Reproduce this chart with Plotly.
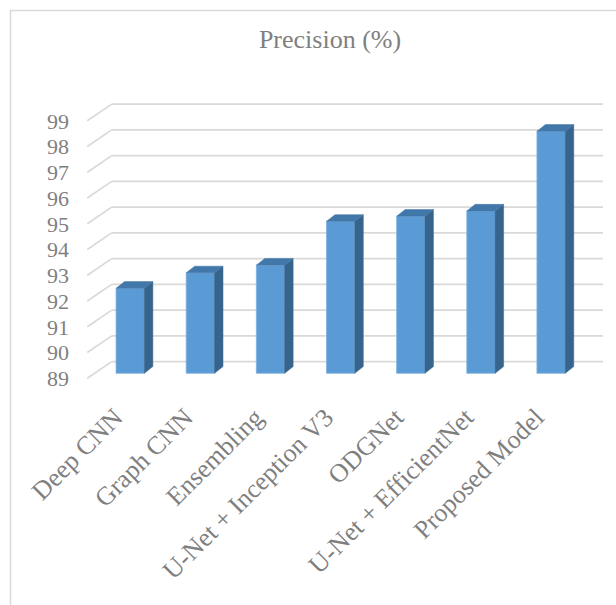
import plotly.graph_objects as go

# Data
models = [
    "Deep CNN",
    "Graph CNN",
    "Ensembling",
    "U-Net + Inception V3",
    "ODGNet",
    "U-Net + EfficientNet",
    "Proposed Model",
]
precision = [92.3, 92.9, 93.2, 94.9, 95.1, 95.3, 98.4]
y_ticks = list(range(89, 100))
y_floor = 89

# Layout geometry (pixels)
W, H = 616, 605
PLOT_L, PLOT_R, PLOT_T, PLOT_B = 70, 606, 80, 390
X0_PX, X_STEP = 130.2, 70.15      # pixel of first category, spacing between categories
Y_FLOOR_PX, Y_STEP = 378.3, 25.75  # pixel of the floor value on the front plane, pixels per unit
LABEL_SHIFT_PX = 15                # category labels sit on the front edge of the floor


def px_to_x(px):
    return (px - X0_PX) / X_STEP


def py_to_y(py):
    return y_floor + (Y_FLOOR_PX - py) / Y_STEP


def px_to_paper(px):
    return (px - PLOT_L) / (PLOT_R - PLOT_L)


def py_to_paper(py):
    return (PLOT_B - py) / (PLOT_B - PLOT_T)


x_range = [px_to_x(PLOT_L), px_to_x(PLOT_R)]
label_range = [r + LABEL_SHIFT_PX / X_STEP for r in x_range]
y_range = [py_to_y(PLOT_B), py_to_y(PLOT_T)]

# 3-D depth offsets (in data units)
GRID_DX, GRID_DY = 24.4 / X_STEP, 16.7 / Y_STEP
GRID_FRONT_X = px_to_x(87.3)
GRID_RIGHT_X = px_to_x(603)
BAR_W = 28.3 / X_STEP
BAR_LIFT = 5.0 / Y_STEP
SIDE_DX, SIDE_DY = 8.5 / X_STEP, 6.7 / Y_STEP

FRONT = "#5B9BD5"
SIDE = "#36648C"
TOP = "#4277A9"
GRID = "#D9D9D9"
TEXT = "#7F7F7F"
FONT = "Liberation Serif, Times New Roman, serif"

idx = list(range(len(models)))
base = y_floor + BAR_LIFT

fig = go.Figure()

# Front faces of the columns
fig.add_trace(go.Bar(
    x=idx,
    y=[v - y_floor for v in precision],
    base=base,
    width=BAR_W,
    marker=dict(color=FRONT, line=dict(color="#7FB0DE", width=0.8)),
    hoverinfo="skip",
))

# Side and top faces for the 3-D look
for i, v in zip(idx, precision):
    xl, xr = i - BAR_W / 2, i + BAR_W / 2
    top = v + BAR_LIFT
    fig.add_trace(go.Scatter(
        x=[xr, xr + SIDE_DX, xr + SIDE_DX, xr, xr],
        y=[base, base + SIDE_DY, top + SIDE_DY, top, base],
        fill="toself", fillcolor=SIDE, mode="lines",
        line=dict(color=SIDE, width=0.5), hoverinfo="skip",
    ))
    fig.add_trace(go.Scatter(
        x=[xl, xl + SIDE_DX, xr + SIDE_DX, xr, xl],
        y=[top, top + SIDE_DY, top + SIDE_DY, top, top],
        fill="toself", fillcolor=TOP, mode="lines",
        line=dict(color=TOP, width=0.5), hoverinfo="skip",
    ))

# Invisible trace that carries the category labels on the front edge
fig.add_trace(go.Scatter(x=idx, y=[y_floor] * len(idx), xaxis="x2",
                         mode="markers", marker=dict(opacity=0),
                         hoverinfo="skip"))

# Gridlines on the back wall with their diagonal run-in on the side wall
shapes = []
for t in y_ticks:
    shapes.append(dict(type="line", xref="x", yref="y", layer="below",
                       x0=GRID_FRONT_X, y0=t,
                       x1=GRID_FRONT_X + GRID_DX, y1=t + GRID_DY,
                       line=dict(color=GRID, width=1.7)))
    shapes.append(dict(type="line", xref="x", yref="y", layer="below",
                       x0=GRID_FRONT_X + GRID_DX, y0=t + GRID_DY,
                       x1=GRID_RIGHT_X, y1=t + GRID_DY,
                       line=dict(color=GRID, width=1.7)))

# Chart-area border (left and top edges)
shapes.append(dict(type="line", xref="paper", yref="paper", layer="below",
                   x0=px_to_paper(10.5), y0=py_to_paper(10.5),
                   x1=px_to_paper(10.5), y1=py_to_paper(606),
                   line=dict(color=GRID, width=1.5)))
shapes.append(dict(type="line", xref="paper", yref="paper", layer="below",
                   x0=px_to_paper(10), y0=py_to_paper(10.5),
                   x1=px_to_paper(617), y1=py_to_paper(10.5),
                   line=dict(color=GRID, width=1.5)))

fig.update_layout(
    width=W, height=H,
    margin=dict(l=PLOT_L, r=W - PLOT_R, t=PLOT_T, b=H - PLOT_B),
    paper_bgcolor="white", plot_bgcolor="white",
    showlegend=False,
    shapes=shapes,
    title=dict(text="Precision (%)", xref="container", yref="container",
               x=330 / W, y=1 - 39 / H, xanchor="center", yanchor="middle",
               font=dict(family=FONT, size=26, color=TEXT)),
    xaxis=dict(range=x_range, showticklabels=False,
               showgrid=False, zeroline=False, showline=False, ticks=""),
    xaxis2=dict(range=label_range, overlaying="x", anchor="y", side="bottom",
                tickvals=idx, ticktext=models, tickangle=-45,
                ticklabelstandoff=6,
                showgrid=False, zeroline=False, showline=False, ticks="",
                tickfont=dict(family=FONT, size=26, color=TEXT)),
    yaxis=dict(range=y_range, tickvals=y_ticks, showgrid=False, zeroline=False,
               showline=False, ticks="",
               tickfont=dict(family=FONT, size=22, color=TEXT)),
)

fig.write_html("out.html")
